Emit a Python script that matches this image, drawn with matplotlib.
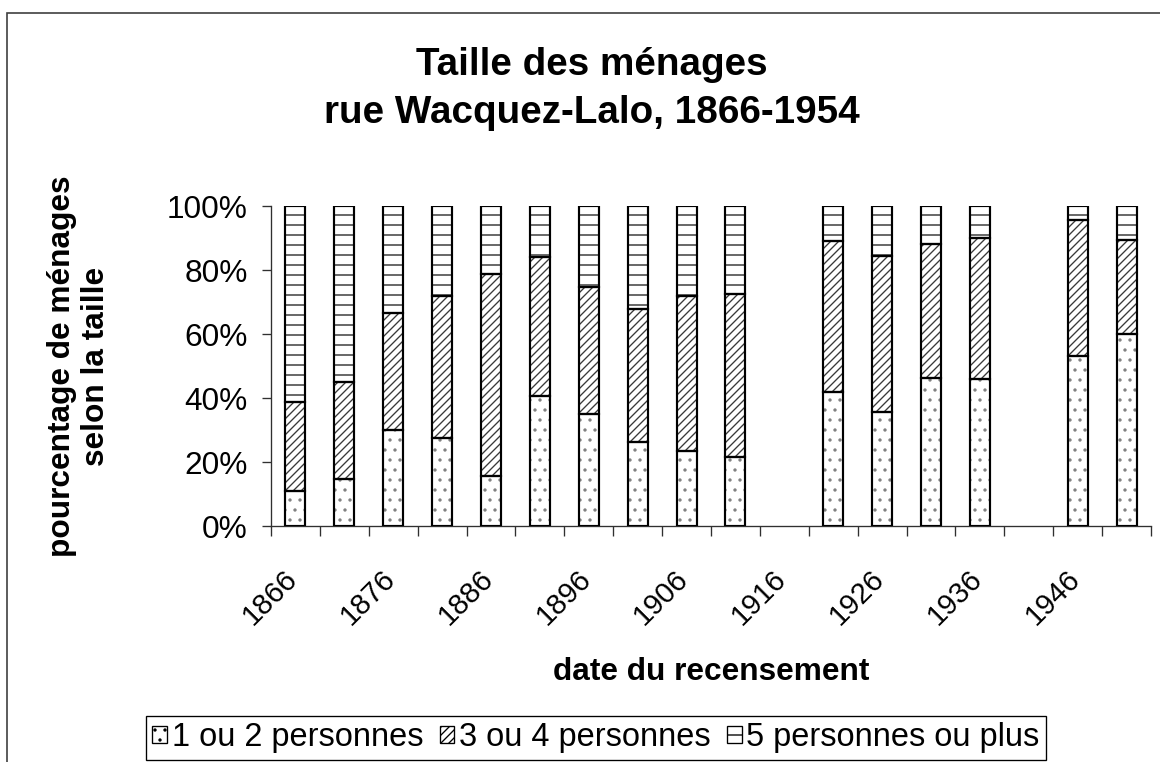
import numpy as np
import matplotlib
matplotlib.use("Agg")
import matplotlib.pyplot as plt
from matplotlib.patches import Patch, Rectangle

# ---------------- data ----------------
years = ["1866", "1872", "1876", "1881", "1886", "1891", "1896", "1901", "1906",
         "1911", "1916", "1921", "1926", "1931", "1936", "1941", "1946", "1954"]
tick_labels = ["1866", "1876", "1886", "1896", "1906", "1916", "1926", "1936", "1946"]

nan = np.nan
one_two = [10.9, 14.8, 30.1, 27.4, 15.7, 40.7, 34.9, 26.4, 23.4, 21.6, nan,
           42.0, 35.6, 46.3, 45.9, nan, 53.0, 60.0]
three_four = [27.8, 30.2, 36.6, 44.6, 62.9, 43.4, 39.9, 41.4, 48.6, 50.8, nan,
              47.1, 48.8, 41.8, 44.0, nan, 42.5, 29.3]
five_plus = [61.3, 55.0, 33.3, 28.0, 21.4, 15.9, 25.2, 32.2, 28.0, 27.6, nan,
             10.9, 15.6, 11.9, 10.1, nan, 4.5, 10.7]
series_names = ["1 ou 2 personnes", "3 ou 4 personnes", "5 personnes ou plus"]

# ---------------- style ----------------
W, H, DPI = 1160, 762, 120
plt.rcParams["font.family"] = ["Liberation Sans", "DejaVu Sans"]
plt.rcParams["hatch.linewidth"] = 0.8

fig = plt.figure(figsize=(W / DPI, H / DPI), dpi=DPI, facecolor="white")
ax = fig.add_axes([271 / W, 1 - 526 / H, (1151 - 271) / W, (526 - 206) / H])

hatches = ["..", "/////", "--"]
hatch_colors = ["#808080", "#3a3a3a", "#222222"]
x = np.arange(len(years))
bottom = np.zeros(len(years))
bar_w = 0.41
for vals, hatch, hc in zip([one_two, three_four, five_plus], hatches, hatch_colors):
    v = np.array(vals, dtype=float)
    ok = ~np.isnan(v)
    ax.bar(x[ok], v[ok], bar_w, bottom=bottom[ok], color="white",
           edgecolor=hc, linewidth=0, hatch=hatch, zorder=2)
    ax.bar(x[ok], v[ok], bar_w, bottom=bottom[ok], fill=False,
           edgecolor="black", linewidth=1.3, zorder=3)
    bottom[ok] += v[ok]

ax.set_xlim(-0.5, len(years) - 0.5)
ax.set_ylim(0, 100)
ax.set_facecolor("none")
for s in ["top", "right"]:
    ax.spines[s].set_visible(False)
for s in ["left", "bottom"]:
    ax.spines[s].set_color("#303030")
    ax.spines[s].set_linewidth(0.8)

# y axis
ax.set_yticks(np.arange(0, 101, 20))
ax.set_yticklabels([f"{v}%" for v in range(0, 101, 20)])
ax.tick_params(axis="y", direction="out", length=5.4, width=0.8, color="#303030",
               labelsize=19, pad=8.5)

# x axis: tick marks between categories, labels every other category
ax.set_xticks(np.arange(-0.5, len(years), 1))
ax.set_xticklabels([])
ax.tick_params(axis="x", which="major", direction="out", length=6, width=0.8,
               color="#303030")
label_shift = 0.25  # rotated labels end slightly left of the category centre
ax.set_xticks(x[::2] - label_shift, minor=True)
ax.set_xticklabels(tick_labels, minor=True, rotation=45, ha="right", va="top",
                   rotation_mode="anchor", fontsize=17.5)
ax.tick_params(axis="x", which="minor", length=0, pad=23)

# titles and axis labels
fig.text(592 / W, 1 - 75 / H, "Taille des ménages", ha="center", va="baseline",
         fontsize=23.2, fontweight="bold")
fig.text(592 / W, 1 - 123 / H, "rue Wacquez-Lalo, 1866-1954", ha="center",
         va="baseline", fontsize=23.2, fontweight="bold")
fig.text(79 / W, 1 - 366 / H, "pourcentage de ménages\nselon la taille",
         rotation=90, ha="center", va="center", multialignment="center",
         fontsize=19, fontweight="bold", linespacing=1.18)
fig.text(711 / W, 1 - 680 / H, "date du recensement", ha="center",
         va="baseline", fontsize=19, fontweight="bold")

# legend
handles = [Patch(facecolor="white", edgecolor="black", hatch=h, linewidth=0.8)
           for h in hatches]
leg = fig.legend(handles, series_names, loc="center",
                 bbox_to_anchor=(596 / W, 1 - 737.5 / H), ncol=3, frameon=True,
                 fancybox=False, edgecolor="black", framealpha=1, fontsize=19.5,
                 handlelength=0.45, handleheight=0.45, handletextpad=0.15,
                 columnspacing=0.5, borderpad=0.2, borderaxespad=0)
leg.get_frame().set_linewidth(0.8)

# chart-area frame
fig.add_artist(Rectangle((7 / W, -0.5), 2.0, 1.5 - 13 / H,
                         transform=fig.transFigure, fill=False,
                         edgecolor="#404040", linewidth=1.0))

fig.savefig("out.png", dpi=DPI, facecolor="white")
